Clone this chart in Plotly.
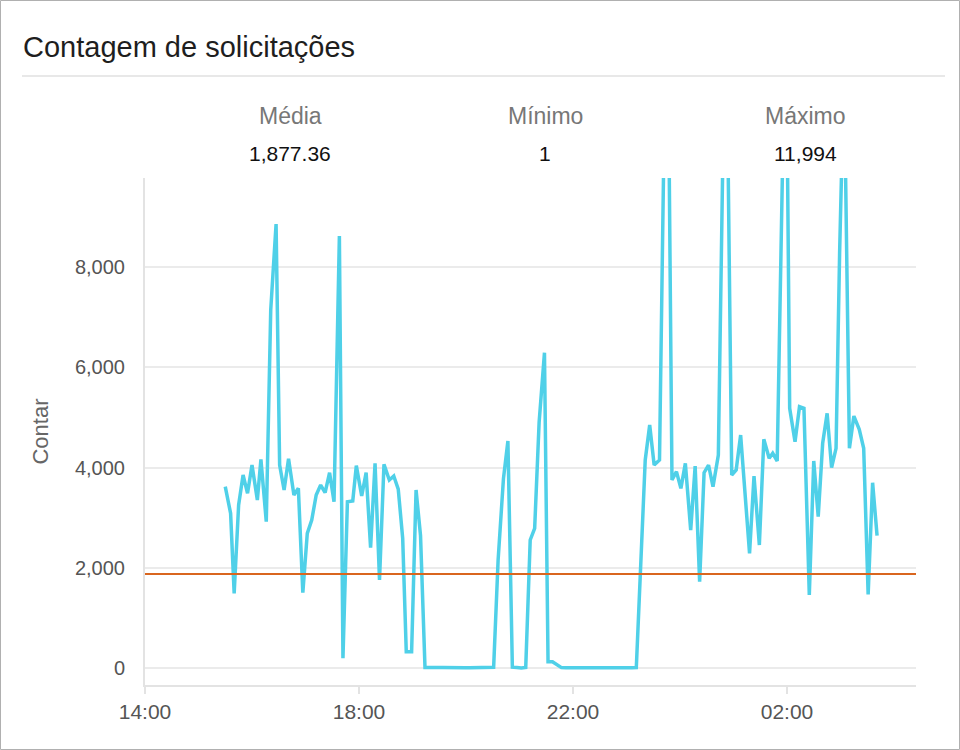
import plotly.graph_objects as go
import pandas as pd

# ---------------- data ----------------
times = [
    "15:30", "15:36", "15:40", "15:45", "15:50", "15:55", "16:00", "16:06", "16:10", "16:16",
    "16:21", "16:27", "16:31", "16:36", "16:41", "16:47", "16:52", "16:57", "17:02", "17:07",
    "17:12", "17:17", "17:22", "17:27", "17:32", "17:38", "17:42", "17:47", "17:53", "17:57",
    "18:03", "18:08", "18:13", "18:18", "18:23", "18:28", "18:34", "18:39", "18:44", "18:49",
    "18:53", "18:59", "19:04", "19:09", "19:14", "19:19", "19:24", "19:29", "19:34", "19:39",
    "19:44", "19:49", "19:54", "19:59", "20:04", "20:09", "20:14", "20:20", "20:25", "20:31",
    "20:36", "20:42", "20:47", "20:52", "20:57", "21:02", "21:07", "21:12", "21:17", "21:22",
    "21:28", "21:32", "21:37", "21:42", "21:47", "21:52", "21:57", "22:02", "22:07", "22:12",
    "22:17", "22:22", "22:27", "22:32", "22:37", "22:42", "22:47", "22:52", "22:57", "23:02",
    "23:06", "23:11", "23:16", "23:21", "23:26", "23:31", "23:37", "23:42", "23:47", "23:51",
    "23:56", "00:01", "00:06", "00:12", "00:17", "00:22", "00:27", "00:32", "00:37", "00:43",
    "00:48", "00:53", "00:58", "01:03", "01:08", "01:13", "01:18", "01:23", "01:29", "01:34",
    "01:40", "01:44", "01:49", "01:55", "02:00", "02:03", "02:09", "02:14", "02:19", "02:25",
    "02:30", "02:35", "02:40", "02:45", "02:50", "02:55", "02:59", "03:04", "03:10", "03:15",
    "03:21", "03:26", "03:31", "03:36", "03:41",
]
counts = [
    3617, 3086, 1490, 3252, 3850, 3485, 4050, 3352, 4163, 2920,
    7143, 8858, 4050, 3551, 4176, 3452, 3585, 1503, 2687, 2953,
    3452, 3651, 3498, 3897, 3318, 8618, 194, 3318, 3332, 4037,
    3432, 3897, 2400, 4083, 1756, 4063, 3750, 3830, 3570, 2587,
    325, 325, 3551, 2640, 12, 5, 3, 8, 10, 6,
    4, 9, 11, 7, 5, 4, 6, 8, 10, 14,
    2150, 3780, 4530, 16, 9, 1, 12, 2554, 2787, 4900,
    6290, 126, 126, 70, 8, 4, 3, 5, 2, 4,
    6, 3, 2, 5, 4, 3, 6, 2, 3, 5,
    4, 7, 2100, 4150, 4848, 4050, 4150, 10470, 11790, 3750,
    3917, 3585, 4083, 2753, 4030, 1722, 3897, 4050, 3617, 4250,
    10130, 11550, 3850, 3950, 4648, 3450, 2288, 3830, 2454, 4562,
    4183, 4283, 4130, 10015, 11152, 5181, 4515, 5213, 5181, 1456,
    4130, 3019, 4483, 5081, 3996, 4383, 8273, 11994, 4383, 5027,
    4762, 4383, 1470, 3697, 2640,
]
stat_labels = ["Média", "Mínimo", "Máximo"]
stat_values = [1877.36, 1, 11994]
stat_texts = ["1,877.36", "1", "11,994"]
y_ticks = [0, 2000, 4000, 6000, 8000]
x_tick_labels = ["14:00", "18:00", "22:00", "02:00"]

# build datetimes (series crosses midnight)
stamps = []
for t in times:
    h = int(t.split(":")[0])
    day = "2019-01-01" if h >= 12 else "2019-01-02"
    stamps.append(pd.Timestamp(f"{day} {t}"))
x_tick_vals = [pd.Timestamp("2019-01-01 14:00"), pd.Timestamp("2019-01-01 18:00"),
               pd.Timestamp("2019-01-01 22:00"), pd.Timestamp("2019-01-02 02:00")]

# ---------------- layout geometry ----------------
W, H = 960, 750
L, R, T, B = 145, 916, 178, 685


def px(x):
    return (x - L) / (R - L)


def py(y):
    return (B - y) / (B - T)


FONT = "Helvetica Neue, Liberation Sans, Arial, sans-serif"

fig = go.Figure()
fig.add_trace(go.Scatter(
    x=stamps, y=counts, mode="lines",
    line=dict(color="#4fd0e8", width=3.5),
    hoverinfo="x+y", showlegend=False,
))

shapes = [
    # average line
    dict(type="line", xref="paper", yref="y", x0=0, x1=1,
         y0=stat_values[0], y1=stat_values[0],
         line=dict(color="#d9661f", width=2), layer="above"),
    # outer border
    dict(type="rect", xref="paper", yref="paper",
         x0=px(0.5), x1=px(W - 0.5), y0=py(H - 0.5), y1=py(0.5),
         line=dict(color="#b0b0b0", width=1), layer="below"),
    # title separator
    dict(type="line", xref="paper", yref="paper",
         x0=px(22), x1=px(945), y0=py(76), y1=py(76),
         line=dict(color="#e8e8e8", width=2)),
]

annotations = [
    dict(text="Contagem de solicitações", xref="paper", yref="paper",
         x=px(21), y=py(47), xanchor="left", yanchor="middle", showarrow=False,
         font=dict(family=FONT, size=29, color="#1e1e1e")),
]
stat_x = [290, 545, 805]
for lab, val, sx in zip(stat_labels, stat_texts, stat_x):
    annotations.append(dict(text=lab, xref="paper", yref="paper", x=px(sx), y=py(116),
                            xanchor="center", yanchor="middle", showarrow=False,
                            font=dict(family=FONT, size=23, color="#777777")))
    annotations.append(dict(text=val, xref="paper", yref="paper", x=px(sx), y=py(153),
                            xanchor="center", yanchor="middle", showarrow=False,
                            font=dict(family=FONT, size=21, color="#111111")))

fig.update_layout(
    width=W, height=H,
    margin=dict(l=L, r=W - R, t=T, b=H - B, pad=0),
    paper_bgcolor="white", plot_bgcolor="white",
    font=dict(family=FONT, color="#555555"),
    shapes=shapes, annotations=annotations,
    showlegend=False,
)
fig.update_xaxes(
    type="date",
    range=[pd.Timestamp("2019-01-01 14:00"), pd.Timestamp("2019-01-02 04:24:40")],
    tickvals=x_tick_vals, ticktext=x_tick_labels,
    ticks="outside", ticklen=7, tickcolor="#e3e3e3", tickwidth=2,
    showgrid=False, showline=True, linecolor="#e3e3e3", linewidth=2,
    zeroline=False,
    tickfont=dict(family=FONT, size=21, color="#555555"),
)
fig.update_yaxes(
    range=[-339, 9776],
    tickvals=y_ticks, tickformat=",d",
    showgrid=True, gridcolor="#ebebeb", gridwidth=2,
    showline=True, linecolor="#e3e3e3", linewidth=2,
    zeroline=False, ticks="", ticklabelstandoff=14,
    tickfont=dict(family=FONT, size=20, color="#555555"),
    title=dict(text="Contar", standoff=20, font=dict(family=FONT, size=22, color="#666666")),
)

fig.write_html("out.html")
